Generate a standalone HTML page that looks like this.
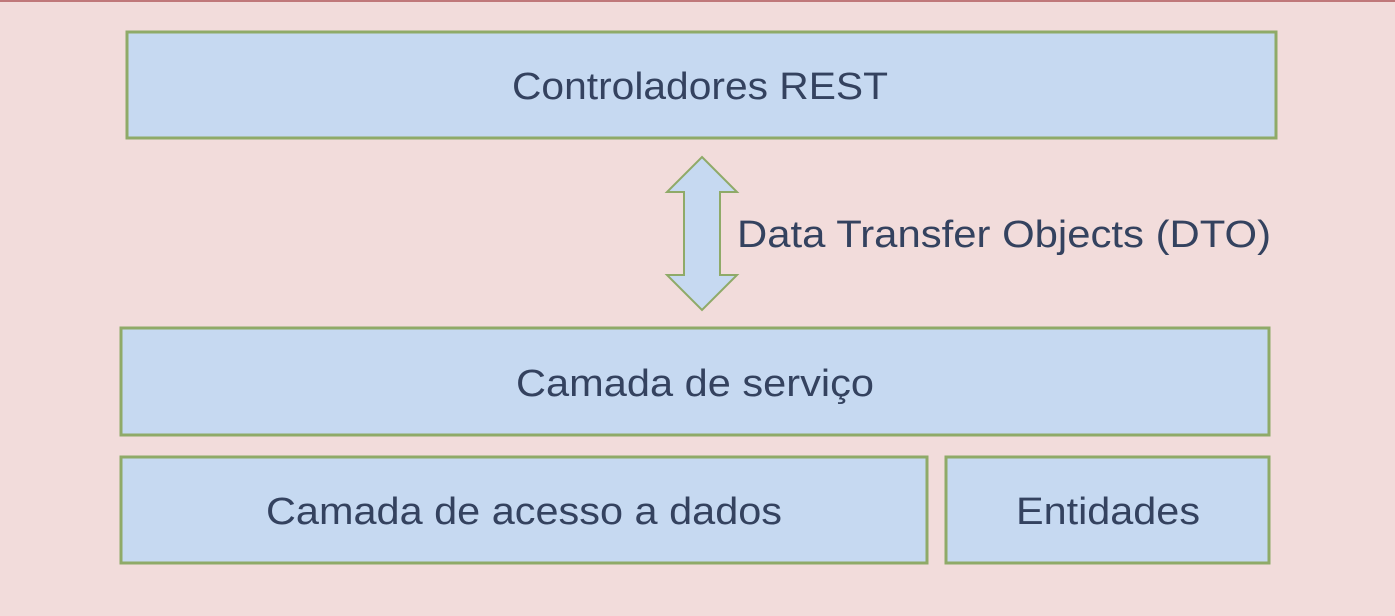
<!DOCTYPE html>
<html><head><style>
html,body{margin:0;padding:0;background:#f2dcdb;}
</style></head><body>
<svg width="1395" height="616" xmlns="http://www.w3.org/2000/svg" style="display:block">
<rect x="0" y="0" width="1395" height="616" fill="#f2dcdb"/>
<rect x="0" y="0" width="1395" height="2" fill="#c0787a"/>
<g fill="#c6d9f1" stroke="#8faa68" stroke-width="3">
<rect x="127" y="32" width="1149" height="106"/>
<rect x="121" y="328" width="1148" height="107"/>
<rect x="121" y="457" width="806" height="106"/>
<rect x="946" y="457" width="323" height="106"/>
<polygon points="702,157 737,192 720,192 720,275 737,275 702,310 667,275 684,275 684,192 667,192" stroke-width="2"/>
</g>
<g font-family="Liberation Sans, sans-serif" font-size="38" fill="#34425f">
<text x="512" y="99" textLength="376" lengthAdjust="spacingAndGlyphs">Controladores REST</text>
<text x="737" y="247" textLength="534" lengthAdjust="spacingAndGlyphs">Data Transfer Objects (DTO)</text>
<text x="516" y="396" textLength="358" lengthAdjust="spacingAndGlyphs">Camada de serviço</text>
<text x="266" y="524" textLength="516" lengthAdjust="spacingAndGlyphs">Camada de acesso a dados</text>
<text x="1016" y="524" textLength="184" lengthAdjust="spacingAndGlyphs">Entidades</text>
</g>
</svg>
</body></html>
